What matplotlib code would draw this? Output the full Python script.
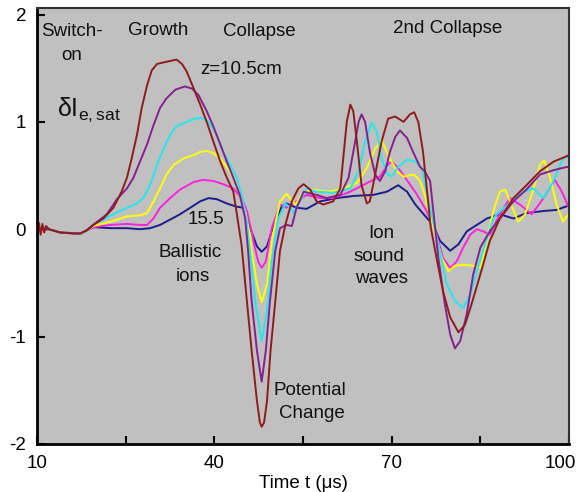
"""
Probe signal delta I_e,sat versus time for six axial positions
(z = 10.5 cm ... 15.5 cm): switch-on, growth, collapse and 2nd collapse.
"""

import matplotlib.pyplot as plt
import matplotlib.transforms as mtransforms

plt.rcParams["font.family"] = ["Liberation Sans", "DejaVu Sans"]
plt.rcParams["mathtext.fontset"] = "custom"
plt.rcParams["mathtext.rm"] = "Liberation Sans"
plt.rcParams["mathtext.it"] = "Liberation Sans"
plt.rcParams["axes.unicode_minus"] = False

# ---------------------------------------------------------------------------
# Traces (time in us, signal in arb. units)
# ---------------------------------------------------------------------------
# z = 10.5 cm (dark red)
t_red = [10.0, 10.3, 10.6, 10.9, 11.2, 11.5, 12.0, 13.9, 16.0, 17.3, 18.4, 19.5,
         21.2, 22.9, 24.3, 25.2, 26.0, 26.9, 27.7, 28.6, 29.4, 30.3, 31.9, 33.6,
         34.5, 35.3, 36.5, 37.6, 38.7, 39.8, 41.0, 42.1, 43.2, 43.8, 44.6, 45.5,
         46.3, 47.2, 47.7, 48.0, 48.4, 48.9, 49.5, 50.3, 51.1, 52.0, 53.1, 54.2,
         55.1, 56.2, 57.3, 58.4, 60.1, 61.3, 61.8, 62.4, 63.0, 63.5, 64.1, 64.9,
         65.8, 66.3, 67.2, 68.3, 69.4, 70.6, 72.0, 73.1, 73.8, 74.5, 75.3, 75.9,
         76.6, 77.6, 78.7, 79.9, 81.3, 82.4, 83.5, 85.0, 86.6, 88.3, 90.6, 92.8,
         95.1, 97.4, 99.6, 100.0]
v_red = [0.00, 0.06, -0.05, 0.05, -0.03, 0.03, 0.00, -0.03, -0.04, -0.04, -0.01, 0.04,
         0.10, 0.20, 0.35, 0.48, 0.66, 0.88, 1.13, 1.34, 1.48, 1.54, 1.56, 1.58,
         1.54, 1.47, 1.31, 1.16, 1.00, 0.82, 0.63, 0.48, 0.35, 0.14, -0.15, -0.67,
         -1.13, -1.60, -1.80, -1.84, -1.80, -1.60, -1.13, -0.67, -0.20, 0.04, 0.26, 0.38,
         0.42, 0.37, 0.26, 0.23, 0.26, 0.38, 0.66, 1.00, 1.16, 1.10, 0.82, 0.41,
         0.24, 0.26, 0.51, 0.82, 1.03, 1.05, 1.00, 1.07, 1.09, 1.00, 0.72, 0.40,
         0.02, -0.27, -0.58, -0.82, -0.96, -0.89, -0.70, -0.42, -0.11, 0.10, 0.29, 0.41,
         0.54, 0.63, 0.68, 0.69]

# purple
t_pur = [10.0, 12.0, 13.9, 17.3, 18.4, 19.5, 21.8, 23.5, 25.2, 26.3, 27.4, 28.6,
         29.7, 30.8, 31.9, 33.4, 35.0, 36.2, 37.3, 38.7, 39.8, 41.0, 42.1, 43.2,
         44.3, 45.2, 45.7, 46.3, 47.2, 48.0, 48.7, 49.4, 50.3, 51.1, 52.2, 53.1,
         53.9, 55.1, 57.3, 59.0, 61.3, 62.7, 63.5, 64.4, 64.9, 65.5, 66.3, 67.2,
         68.0, 68.9, 69.7, 70.6, 71.4, 72.6, 73.7, 74.8, 75.6, 76.5, 77.1, 77.9,
         79.0, 79.9, 80.7, 81.6, 82.7, 83.8, 85.0, 86.6, 88.3, 90.6, 92.8, 95.1,
         97.4, 99.6, 100.0]
v_pur = [0.00, 0.00, -0.03, -0.04, -0.01, 0.04, 0.14, 0.28, 0.38, 0.48, 0.63, 0.79,
         0.97, 1.13, 1.22, 1.30, 1.33, 1.31, 1.25, 1.10, 0.96, 0.79, 0.63, 0.48,
         0.32, 0.10, -0.20, -0.67, -1.13, -1.42, -1.13, -0.67, -0.20, 0.01, 0.04, 0.03,
         0.20, 0.35, 0.32, 0.29, 0.32, 0.48, 0.72, 1.00, 1.07, 1.00, 0.72, 0.51,
         0.45, 0.54, 0.72, 0.86, 0.92, 0.85, 0.71, 0.58, 0.54, 0.45, 0.14, -0.27,
         -0.70, -0.98, -1.11, -1.04, -0.79, -0.42, -0.17, -0.02, 0.10, 0.26, 0.37, 0.51,
         0.55, 0.58, 0.58]

# cyan
t_cya = [10.0, 12.0, 13.9, 17.3, 18.4, 19.5, 21.2, 22.9, 25.2, 26.9, 28.0, 29.1,
         30.3, 31.4, 32.5, 33.6, 35.3, 36.7, 37.9, 39.0, 40.1, 41.5, 42.7, 43.8,
         44.6, 45.5, 46.0, 46.9, 48.0, 48.9, 49.7, 50.8, 52.0, 52.8, 53.4, 54.5,
         55.6, 57.3, 60.1, 63.0, 64.4, 65.5, 66.6, 67.5, 68.3, 69.3, 70.0, 71.1,
         72.6, 74.0, 75.1, 76.0, 77.1, 78.2, 79.3, 80.7, 82.1, 83.3, 84.4, 85.8,
         87.2, 88.3, 90.0, 92.3, 94.0, 95.7, 97.4, 99.0, 100.0]
v_cya = [0.00, 0.00, -0.03, -0.04, -0.01, 0.04, 0.09, 0.14, 0.20, 0.24, 0.29, 0.41,
         0.60, 0.75, 0.88, 0.96, 1.00, 1.03, 1.04, 1.00, 0.91, 0.72, 0.60, 0.48,
         0.32, 0.07, -0.20, -0.67, -1.04, -0.76, -0.30, 0.10, 0.24, 0.20, 0.15, 0.26,
         0.38, 0.35, 0.34, 0.38, 0.54, 0.82, 0.99, 0.91, 0.66, 0.51, 0.49, 0.58,
         0.65, 0.63, 0.57, 0.32, 0.05, -0.22, -0.51, -0.67, -0.73, -0.61, -0.39, -0.14,
         0.10, 0.17, 0.24, 0.35, 0.38, 0.29, 0.45, 0.66, 0.68]

# yellow
t_yel = [10.0, 12.0, 13.9, 17.3, 18.4, 19.5, 22.4, 25.2, 27.4, 28.6, 29.7, 30.8,
         31.9, 33.1, 34.8, 36.5, 37.6, 38.7, 39.8, 41.0, 42.1, 43.2, 44.3, 45.2,
         46.0, 46.3, 47.2, 48.0, 48.9, 49.7, 51.1, 52.2, 53.7, 55.1, 56.7, 59.0,
         61.3, 64.1, 65.8, 67.2, 68.3, 69.4, 70.9, 72.0, 73.7, 74.8, 75.6, 76.4,
         77.3, 78.5, 79.6, 80.7, 82.1, 83.8, 85.0, 86.1, 87.2, 88.3, 89.2, 90.0,
         91.4, 92.6, 94.0, 95.1, 95.8, 96.8, 97.9, 99.0, 99.9]
v_yel = [0.00, 0.00, -0.03, -0.04, -0.01, 0.03, 0.07, 0.12, 0.13, 0.15, 0.26, 0.38,
         0.51, 0.60, 0.66, 0.69, 0.72, 0.73, 0.71, 0.66, 0.58, 0.48, 0.32, 0.17,
         -0.05, -0.20, -0.51, -0.68, -0.51, -0.11, 0.26, 0.33, 0.23, 0.35, 0.37, 0.35,
         0.37, 0.43, 0.57, 0.75, 0.83, 0.69, 0.54, 0.49, 0.51, 0.45, 0.32, 0.14,
         -0.03, -0.27, -0.39, -0.34, -0.33, -0.34, -0.36, -0.11, 0.17, 0.35, 0.37, 0.26,
         0.07, 0.14, 0.38, 0.60, 0.64, 0.48, 0.23, 0.07, 0.14]

# magenta
t_mag = [10.0, 12.0, 13.9, 17.3, 18.4, 19.5, 22.4, 25.2, 27.4, 28.6, 29.7, 30.8,
         32.5, 34.2, 36.5, 38.1, 39.8, 41.5, 43.2, 44.6, 45.5, 46.3, 46.6, 47.4,
         48.0, 48.7, 49.7, 51.1, 52.2, 55.6, 57.9, 60.1, 63.0, 65.8, 68.0, 69.3,
         70.0, 71.1, 72.3, 74.2, 75.9, 77.6, 78.7, 79.9, 81.0, 82.1, 83.3, 84.4,
         85.5, 86.6, 88.3, 90.0, 91.7, 93.7, 95.7, 97.6, 98.8, 99.9]
v_mag = [0.00, 0.00, -0.03, -0.04, -0.01, 0.02, 0.04, 0.05, 0.04, 0.04, 0.10, 0.20,
         0.29, 0.37, 0.44, 0.46, 0.45, 0.42, 0.38, 0.29, 0.17, -0.02, -0.11, -0.30,
         -0.36, -0.30, 0.01, 0.23, 0.20, 0.32, 0.29, 0.29, 0.35, 0.43, 0.49, 0.60,
         0.63, 0.57, 0.48, 0.33, 0.17, -0.05, -0.27, -0.36, -0.30, -0.17, -0.05, 0.00,
         -0.02, -0.05, 0.14, 0.29, 0.23, 0.14, 0.29, 0.46, 0.35, 0.21]

# z = 15.5 cm (navy)
t_nav = [10.0, 12.0, 13.9, 17.3, 18.4, 19.5, 22.4, 25.2, 27.4, 29.1, 30.8, 32.5,
         34.2, 35.9, 37.6, 39.0, 40.4, 42.1, 43.8, 44.9, 45.8, 47.2, 48.0, 48.9,
         50.0, 51.4, 52.2, 53.9, 55.6, 57.9, 60.7, 63.5, 66.9, 69.2, 71.1, 72.6,
         74.0, 75.4, 77.0, 78.2, 79.9, 81.3, 82.7, 84.4, 86.1, 88.3, 90.6, 92.8,
         95.7, 97.9, 99.9]
v_nav = [0.00, 0.00, -0.03, -0.04, -0.01, 0.02, 0.01, 0.01, 0.00, 0.01, 0.04, 0.09,
         0.14, 0.20, 0.26, 0.29, 0.28, 0.24, 0.21, 0.20, 0.05, -0.16, -0.21, -0.16,
         0.04, 0.21, 0.24, 0.20, 0.19, 0.26, 0.29, 0.31, 0.32, 0.35, 0.41, 0.35,
         0.23, 0.14, 0.04, -0.11, -0.20, -0.14, -0.02, 0.04, 0.10, 0.14, 0.10, 0.15,
         0.17, 0.18, 0.22]

# drawn back to front
traces = [
    (t_nav, v_nav, "#1c1c8c"),
    (t_mag, v_mag, "#ff22dd"),
    (t_yel, v_yel, "#ffff00"),
    (t_cya, v_cya, "#22e8ee"),
    (t_pur, v_pur, "#86208e"),
    (t_red, v_red, "#8e1c1c"),
]

x_major = [10, 40, 70, 100]
x_minor = [25, 55, 85]
y_ticks = [-2, -1, 0, 1, 2]

# phase labels and annotations: (text, t, value)
labels = [
    ("Switch-", 15.9, 1.84),
    ("on", 15.9, 1.62),
    ("Growth", 30.5, 1.85),
    ("Collapse", 47.6, 1.84),
    ("2nd Collapse", 79.4, 1.87),
    ("z=10.5cm", 44.5, 1.49),
    ("15.5", 38.6, 0.09),
    ("Ballistic", 35.9, -0.22),
    ("ions", 36.4, -0.44),
    ("Ion", 68.2, -0.04),
    ("sound", 67.9, -0.25),
    ("waves", 68.2, -0.46),
    ("Potential", 56.2, -1.50),
    ("Change", 56.5, -1.72),
]

fig = plt.figure(figsize=(5.8, 4.92), dpi=100)
ax = fig.add_axes([0.064, 0.0976, 0.917, 0.886])
ax.set_facecolor("#c0c0c0")

for t, v, color in traces:
    ax.plot(t, v, color=color, lw=1.4, solid_joinstyle="round")

for text, t, v in labels:
    ax.text(t, v, text, ha="center", va="center", fontsize=13.5, color="#111111")

ax.text(13.4, 1.11, r"$\delta$I$_{\mathregular{e,sat}}$", ha="left", va="center",
        fontsize=18, color="#111111")

ax.set_xlim(10, 100)
ax.set_ylim(-2, 2.06)
ax.set_xticks(x_major)
ax.set_xticks(x_minor, minor=True)
ax.set_yticks(y_ticks)
ax.tick_params(which="both", direction="in", length=6, width=1.5,
               labelsize=13.5, pad=8)
ax.set_xlabel("Time t (\u03bcs)", fontsize=13.5, labelpad=2)

# last x label sits flush with the right edge of the figure
last = ax.get_xticklabels()[-1]
last.set_horizontalalignment("right")
last.set_transform(last.get_transform()
                   + mtransforms.ScaledTranslation(0.07, 0, fig.dpi_scale_trans))

for side in ["left", "bottom"]:
    ax.spines[side].set_linewidth(2)
    ax.spines[side].set_color("black")
for side in ["top", "right"]:
    ax.spines[side].set_linewidth(1.5)
    ax.spines[side].set_color("#333333")

fig.savefig("out.png", dpi=100)
